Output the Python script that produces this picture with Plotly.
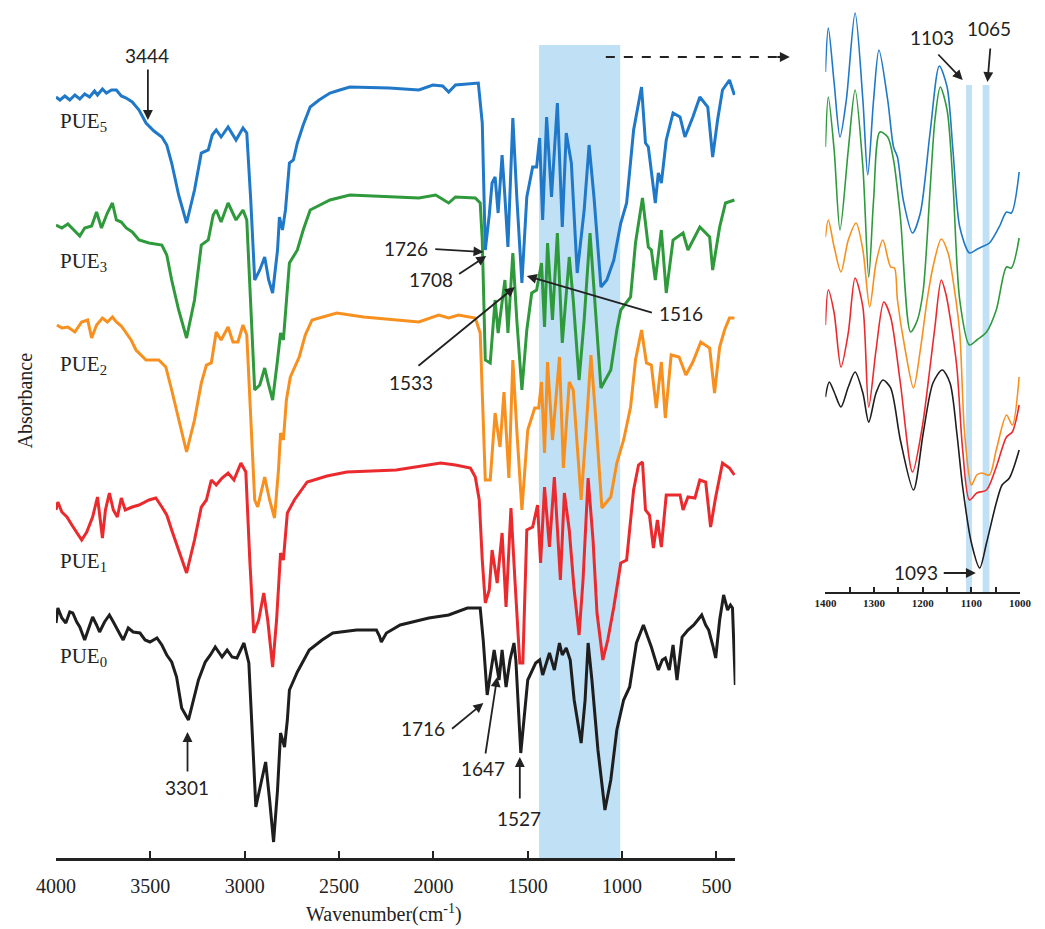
import plotly.graph_objects as go

# ---------------- main spectra (wavenumber cm-1, stacked absorbance a.u.) ----------------
WN_PUE5 = [4000, 3979, 3953, 3927, 3900, 3874, 3848, 3822, 3796, 3780, 3754, 3733, 3706, 3680, 3654, 3628, 3596,
           3560, 3523, 3481, 3439, 3413, 3387, 3350, 3308, 3266, 3230, 3193, 3172, 3151, 3125, 3088, 3046, 3009,
           2989, 2968, 2947, 2920, 2894, 2873, 2852, 2826, 2816, 2800, 2784, 2763, 2742, 2721, 2690, 2653, 2606,
           2548, 2496, 2443, 2234, 2077, 2003, 1951, 1919, 1883, 1762, 1741, 1725, 1704, 1689, 1673, 1657, 1636,
           1621, 1605, 1579, 1558, 1531, 1505, 1474, 1453, 1437, 1421, 1400, 1374, 1343, 1317, 1296, 1269, 1238,
           1201, 1175, 1149, 1112, 1081, 1044, 1007, 976, 939, 897, 876, 861, 824, 808, 792, 766, 730, 693, 667,
           625, 588, 546, 520, 494, 468, 431, 405]
ABS_PUE5 = [7.61, 7.58, 7.62, 7.58, 7.63, 7.59, 7.64, 7.61, 7.67, 7.63, 7.69, 7.65, 7.68, 7.68, 7.62, 7.60, 7.56,
            7.48, 7.35, 7.27, 7.21, 7.13, 6.95, 6.63, 6.35, 6.68, 7.05, 7.08, 7.23, 7.28, 7.21, 7.31, 7.18, 7.30,
            7.25, 6.58, 5.78, 5.88, 6.01, 5.78, 5.65, 6.08, 6.41, 6.28, 6.48, 6.95, 6.98, 7.15, 7.33, 7.51, 7.58,
            7.65, 7.68, 7.71, 7.70, 7.68, 7.73, 7.72, 7.66, 7.73, 7.75, 7.35, 6.08, 6.43, 6.75, 6.81, 6.45, 7.03,
            6.61, 6.11, 7.40, 6.61, 5.75, 6.61, 6.91, 6.91, 7.20, 6.38, 7.41, 6.61, 7.55, 6.31, 7.25, 6.95, 5.85,
            6.48, 7.13, 6.61, 5.71, 5.78, 5.98, 6.35, 6.55, 7.28, 7.71, 7.15, 7.11, 6.55, 6.85, 6.75, 7.18, 7.45,
            7.41, 7.21, 7.41, 7.61, 7.51, 7.01, 7.38, 7.68, 7.78, 7.63]

WN_PUE3 = [4000, 3969, 3937, 3906, 3874, 3848, 3811, 3785, 3759, 3728, 3701, 3680, 3654, 3628, 3596, 3560, 3507,
           3439, 3413, 3387, 3350, 3308, 3266, 3230, 3193, 3167, 3151, 3125, 3088, 3046, 3009, 2989, 2968, 2947,
           2920, 2894, 2873, 2852, 2826, 2810, 2795, 2779, 2763, 2721, 2690, 2653, 2548, 2443, 2234, 2077, 1988,
           1919, 1883, 1778, 1752, 1741, 1725, 1699, 1673, 1657, 1621, 1605, 1579, 1558, 1531, 1505, 1479, 1453,
           1427, 1411, 1395, 1369, 1343, 1317, 1280, 1259, 1228, 1201, 1170, 1144, 1112, 1060, 1028, 1007, 955,
           929, 892, 861, 845, 824, 792, 766, 730, 677, 651, 588, 536, 520, 483, 452, 405]
ABS_PUE3 = [6.33, 6.30, 6.34, 6.28, 6.22, 6.30, 6.32, 6.46, 6.30, 6.45, 6.55, 6.38, 6.36, 6.30, 6.26, 6.18, 6.15,
            6.13, 6.03, 5.78, 5.48, 5.20, 5.58, 6.13, 6.18, 6.43, 6.48, 6.36, 6.55, 6.38, 6.48, 6.38, 5.58, 4.68,
            4.73, 4.90, 4.73, 4.58, 4.98, 5.25, 5.18, 5.58, 5.95, 6.08, 6.28, 6.48, 6.58, 6.63, 6.61, 6.60, 6.63,
            6.55, 6.61, 6.60, 6.55, 6.18, 4.98, 4.95, 5.58, 5.25, 5.78, 5.25, 6.05, 5.38, 4.68, 5.28, 5.65, 5.68,
            5.95, 5.31, 6.15, 5.38, 6.25, 5.15, 6.01, 5.58, 4.78, 5.38, 6.25, 5.58, 4.70, 4.88, 5.28, 5.48, 5.61,
            6.15, 6.60, 6.11, 6.08, 5.78, 6.28, 5.65, 6.18, 6.25, 6.08, 6.31, 6.21, 5.88, 6.31, 6.55, 6.58]

WN_PUE2 = [3995, 3969, 3937, 3900, 3864, 3832, 3811, 3785, 3754, 3728, 3701, 3680, 3654, 3628, 3602, 3576, 3549,
           3523, 3455, 3418, 3387, 3350, 3308, 3266, 3230, 3203, 3177, 3151, 3125, 3088, 3062, 3036, 3009, 2989,
           2968, 2947, 2931, 2894, 2868, 2842, 2821, 2810, 2795, 2779, 2758, 2711, 2679, 2643, 2512, 2370, 2077,
           1972, 1919, 1867, 1778, 1752, 1736, 1725, 1699, 1673, 1647, 1626, 1600, 1579, 1558, 1531, 1500, 1463,
           1442, 1427, 1411, 1395, 1369, 1332, 1311, 1280, 1259, 1217, 1191, 1165, 1139, 1107, 1060, 1028, 992,
           955, 929, 897, 871, 845, 819, 792, 771, 740, 698, 662, 625, 583, 536, 510, 483, 457, 431, 405]
ABS_PUE2 = [5.33, 5.30, 5.31, 5.26, 5.36, 5.38, 5.20, 5.33, 5.40, 5.36, 5.41, 5.36, 5.32, 5.25, 5.18, 5.08, 5.03,
            4.98, 4.98, 4.91, 4.68, 4.38, 4.06, 4.38, 4.75, 4.93, 4.95, 5.26, 5.18, 5.31, 5.16, 5.16, 5.33, 5.23,
            4.38, 3.58, 3.51, 3.81, 3.58, 3.40, 3.88, 4.25, 4.18, 4.58, 4.81, 5.01, 5.23, 5.38, 5.45, 5.41, 5.36,
            5.43, 5.40, 5.43, 5.40, 5.25, 4.38, 3.78, 3.78, 4.45, 4.11, 4.66, 3.80, 4.98, 4.28, 3.48, 4.28, 4.50,
            4.50, 4.76, 4.05, 4.96, 4.18, 5.01, 3.90, 4.76, 4.68, 3.58, 4.28, 5.03, 4.38, 3.50, 3.61, 3.95, 4.18,
            4.51, 4.98, 5.28, 4.95, 4.93, 4.50, 4.96, 4.40, 5.03, 5.01, 4.83, 4.96, 5.16, 5.10, 4.65, 5.11, 5.28,
            5.40, 5.40]

WN_PUE1 = [4000, 3990, 3969, 3942, 3916, 3890, 3864, 3837, 3806, 3780, 3754, 3738, 3717, 3696, 3675, 3654, 3633,
           3596, 3560, 3507, 3471, 3439, 3413, 3387, 3350, 3308, 3266, 3230, 3203, 3177, 3151, 3120, 3088, 3057,
           3020, 2994, 2973, 2952, 2926, 2899, 2878, 2852, 2831, 2810, 2795, 2774, 2737, 2669, 2564, 2459, 2197,
           2024, 1961, 1883, 1804, 1778, 1757, 1741, 1725, 1704, 1689, 1662, 1636, 1615, 1589, 1568, 1542, 1526,
           1505, 1474, 1448, 1432, 1411, 1385, 1359, 1327, 1306, 1280, 1254, 1228, 1207, 1180, 1154, 1133, 1102,
           1076, 1044, 1007, 976, 939, 913, 892, 876, 855, 834, 813, 792, 766, 730, 693, 677, 651, 614, 588, 557,
           531, 504, 468, 431, 405]
ABS_PUE1 = [3.48, 3.56, 3.46, 3.41, 3.33, 3.26, 3.18, 3.26, 3.41, 3.61, 3.20, 3.48, 3.65, 3.48, 3.41, 3.60, 3.48,
            3.51, 3.53, 3.58, 3.60, 3.51, 3.43, 3.28, 3.08, 2.85, 3.18, 3.51, 3.58, 3.78, 3.73, 3.80, 3.85, 3.78,
            3.95, 3.86, 2.98, 2.25, 2.38, 2.65, 2.38, 1.91, 2.38, 3.05, 2.98, 3.45, 3.58, 3.76, 3.82, 3.86, 3.88,
            3.93, 3.95, 3.93, 3.90, 3.81, 3.58, 2.98, 2.55, 2.68, 3.08, 2.75, 3.25, 2.51, 3.50, 2.78, 1.95, 1.95,
            3.28, 3.31, 3.53, 2.95, 3.71, 3.11, 3.81, 2.78, 3.65, 3.28, 2.68, 2.23, 2.78, 3.80, 3.18, 2.45, 1.98,
            2.18, 2.51, 2.95, 2.98, 3.68, 3.93, 3.96, 3.48, 3.43, 3.10, 3.38, 3.11, 3.63, 3.63, 3.63, 3.48, 3.61,
            3.60, 3.78, 3.76, 3.31, 3.61, 3.95, 3.90, 3.83]

WN_PUE0 = [4000, 3990, 3969, 3948, 3927, 3911, 3890, 3874, 3848, 3827, 3806, 3785, 3769, 3743, 3717, 3696, 3680,
           3659, 3644, 3617, 3591, 3555, 3528, 3502, 3465, 3439, 3413, 3387, 3361, 3334, 3298, 3271, 3245, 3209,
           3182, 3156, 3120, 3093, 3067, 3041, 3004, 2978, 2957, 2941, 2910, 2889, 2868, 2847, 2826, 2810, 2789,
           2774, 2763, 2721, 2658, 2590, 2533, 2407, 2302, 2286, 2276, 2249, 2176, 2024, 1919, 1820, 1752, 1736,
           1715, 1678, 1652, 1636, 1615, 1594, 1573, 1563, 1537, 1516, 1500, 1458, 1437, 1421, 1385, 1359, 1332,
           1317, 1296, 1275, 1254, 1217, 1196, 1180, 1160, 1128, 1091, 1060, 1028, 992, 960, 924, 887, 866, 845,
           808, 787, 771, 750, 730, 709, 682, 651, 620, 578, 557, 541, 520, 504, 483, 462, 441, 426, 415, 400]
ABS_PUE0 = [2.35, 2.50, 2.40, 2.35, 2.46, 2.45, 2.36, 2.31, 2.18, 2.30, 2.41, 2.33, 2.26, 2.36, 2.43, 2.36, 2.31,
            2.23, 2.18, 2.30, 2.26, 2.25, 2.18, 2.16, 2.20, 2.13, 2.03, 1.96, 1.81, 1.50, 1.38, 1.58, 1.78, 1.96,
            2.03, 2.11, 2.01, 2.08, 2.01, 2.00, 2.15, 1.95, 1.18, 0.51, 0.78, 0.96, 0.58, 0.16, 0.68, 1.25, 1.11,
            1.38, 1.68, 1.86, 2.08, 2.18, 2.25, 2.28, 2.28, 2.22, 2.16, 2.25, 2.33, 2.40, 2.43, 2.50, 2.50, 2.18,
            1.63, 2.08, 1.78, 2.08, 1.71, 1.98, 2.15, 1.98, 1.05, 1.48, 1.78, 1.95, 1.98, 1.83, 2.05, 1.88, 2.15,
            2.03, 2.10, 1.98, 1.58, 1.15, 1.58, 2.15, 1.78, 1.08, 0.48, 0.78, 1.28, 1.58, 1.71, 2.15, 2.33, 2.22,
            2.11, 1.88, 1.98, 2.00, 1.88, 2.13, 1.78, 2.21, 2.28, 2.33, 2.43, 2.33, 2.28, 2.13, 2.00, 2.38, 2.63,
            2.48, 2.53, 2.50, 1.73]

# ---------------- inset spectra 1400-1000 cm-1 ----------------
IN_WN_PUE5 = [1400, 1394, 1382, 1370, 1357, 1339, 1323, 1313, 1301, 1290, 1272, 1260, 1252, 1240, 1221, 1205, 1185,
              1166, 1150, 1138, 1124, 1104, 1091, 1079, 1063, 1043, 1028, 1018, 1002]
IN_AB_PUE5 = [5.20, 5.64, 5.09, 4.55, 4.92, 5.79, 4.92, 4.17, 4.92, 5.42, 4.92, 4.45, 4.35, 3.92, 3.59, 3.79, 4.59,
              5.26, 5.05, 4.42, 3.65, 3.39, 3.42, 3.45, 3.49, 3.65, 3.80, 3.79, 4.20]
IN_WN_PUE3 = [1400, 1394, 1382, 1370, 1353, 1339, 1323, 1311, 1301, 1288, 1272, 1260, 1246, 1225, 1211, 1199, 1185,
              1175, 1164, 1150, 1138, 1124, 1104, 1089, 1069, 1049, 1028, 1018, 1002]
IN_AB_PUE3 = [4.45, 4.95, 4.42, 3.62, 4.42, 5.02, 4.25, 3.15, 3.92, 4.60, 4.55, 4.32, 3.75, 2.60, 2.72, 3.02, 4.02,
              4.72, 5.05, 4.82, 4.09, 2.92, 2.47, 2.52, 2.60, 2.82, 3.25, 3.24, 3.54]
IN_WN_PUE2 = [1400, 1394, 1382, 1368, 1353, 1337, 1323, 1309, 1296, 1282, 1266, 1258, 1252, 1236, 1219, 1205, 1191,
              1179, 1162, 1148, 1134, 1124, 1114, 1100, 1089, 1079, 1063, 1049, 1028, 1016, 1002]
IN_AB_PUE2 = [3.55, 3.72, 3.45, 3.20, 3.52, 3.69, 3.42, 2.85, 3.29, 3.52, 3.25, 3.24, 2.92, 2.42, 2.04, 2.42, 2.92,
              3.25, 3.53, 3.39, 2.99, 2.59, 1.59, 1.07, 1.17, 1.19, 1.17, 1.42, 1.77, 1.67, 2.15]
IN_WN_PUE1 = [1400, 1394, 1382, 1368, 1353, 1339, 1323, 1311, 1296, 1280, 1266, 1246, 1221, 1201, 1185, 1175, 1162,
              1152, 1144, 1130, 1118, 1104, 1089, 1069, 1049, 1028, 1016, 1002]
IN_AB_PUE1 = [2.67, 3.02, 2.79, 2.25, 2.59, 3.14, 2.85, 1.85, 2.42, 2.90, 2.75, 2.09, 1.20, 1.65, 2.25, 2.65, 3.12,
              2.97, 2.75, 2.25, 1.42, 0.92, 0.99, 1.02, 1.25, 1.55, 1.60, 1.87]
IN_WN_PUE0 = [1400, 1392, 1382, 1368, 1353, 1339, 1323, 1311, 1296, 1282, 1266, 1246, 1219, 1199, 1179, 1160, 1144,
              1130, 1118, 1100, 1083, 1069, 1049, 1037, 1022, 1002]
IN_AB_PUE0 = [1.95, 2.10, 2.00, 1.85, 2.05, 2.20, 1.99, 1.70, 1.99, 2.12, 2.04, 1.52, 1.02, 1.59, 2.09, 2.22, 2.09,
              1.59, 1.05, 0.49, 0.24, 0.49, 0.89, 1.07, 1.14, 1.42]

SERIES = ["PUE5", "PUE3", "PUE2", "PUE1", "PUE0"]
LABELS = ["PUE<sub>5</sub>", "PUE<sub>3</sub>", "PUE<sub>2</sub>", "PUE<sub>1</sub>", "PUE<sub>0</sub>"]
COLORS = ["#1f78c8", "#2f9a3c", "#f7901e", "#eb2a2e", "#1e1e1e"]
MAIN_WN = [WN_PUE5, WN_PUE3, WN_PUE2, WN_PUE1, WN_PUE0]
MAIN_AB = [ABS_PUE5, ABS_PUE3, ABS_PUE2, ABS_PUE1, ABS_PUE0]
INSET_WN = [IN_WN_PUE5, IN_WN_PUE3, IN_WN_PUE2, IN_WN_PUE1, IN_WN_PUE0]
INSET_AB = [IN_AB_PUE5, IN_AB_PUE3, IN_AB_PUE2, IN_AB_PUE1, IN_AB_PUE0]
LABEL_Y = [0.868, 0.703, 0.581, 0.349, 0.237]

MAIN_TICKS = [4000, 3500, 3000, 2500, 2000, 1500, 1000, 500]
INSET_TICKS = [1400, 1350, 1300, 1250, 1200, 1150, 1100, 1050, 1000]
INSET_TICKTEXT = ["<b>1400</b>", "", "<b>1300</b>", "", "<b>1200</b>", "", "<b>1100</b>", "", "<b>1000</b>"]

SERIF = "Liberation Serif"
SANS = "Lato"

fig = go.Figure()

for name, wn, ab, col in zip(SERIES, MAIN_WN, MAIN_AB, COLORS):
    fig.add_trace(go.Scatter(x=wn, y=ab, mode="lines", name=name,
                             line=dict(color=col, width=3), xaxis="x", yaxis="y", showlegend=False))

for name, wn, ab, col in zip(SERIES, INSET_WN, INSET_AB, COLORS):
    fig.add_trace(go.Scatter(x=wn, y=ab, mode="lines", name=name + " inset",
                             line=dict(color=col, width=1.6, shape="spline", smoothing=0.8),
                             xaxis="x2", yaxis="y2", showlegend=False))

shapes = [
    dict(type="rect", xref="x", yref="y", x0=1440, x1=1010, y0=0, y1=8.13,
         fillcolor="#bfe0f5", line=dict(width=0), layer="below"),
    dict(type="rect", xref="x2", yref="y2", x0=1111, x1=1099, y0=0, y1=5.07,
         fillcolor="#bfe0f5", line=dict(width=0), layer="below"),
    dict(type="rect", xref="x2", yref="y2", x0=1077, x1=1063, y0=0, y1=5.07,
         fillcolor="#bfe0f5", line=dict(width=0), layer="below"),
    dict(type="line", xref="paper", yref="paper", x0=0.5622, x1=0.748, y0=0.9446, y1=0.9446,
         line=dict(color="#222", width=2, dash="dash")),
]

annotations = []

def label(text, x, y, xref="x", yref="y", size=19):
    annotations.append(dict(text=text, x=x, y=y, xref=xref, yref=yref, showarrow=False,
                            xanchor="center", yanchor="middle",
                            font=dict(family=SANS, size=size, color="#222")))

def arrow(hx, hy, tx, ty, xref="x", yref="y"):
    annotations.append(dict(text="", x=hx, y=hy, ax=tx, ay=ty, xref=xref, yref=yref,
                            axref=xref, ayref=yref, showarrow=True, arrowhead=2, arrowsize=1.1,
                            arrowwidth=1.8, arrowcolor="#222"))

# main plot peak labels
label("3444", 3518, 8.03); arrow(3513, 7.38, 3513, 7.90)
label("1726", 2145, 6.10); arrow(1735, 6.06, 1998, 6.09)
label("1708", 2014, 5.79); arrow(1720, 6.02, 1872, 5.83)
label("1516", 688, 5.45); arrow(1505, 5.82, 834, 5.45)
label("1533", 2118, 4.76); arrow(1568, 5.71, 2087, 4.91)
label("3301", 3308, 0.71); arrow(3303, 1.26, 3303, 0.85)
label("1716", 2056, 1.30); arrow(1735, 1.55, 1909, 1.28)
label("1647", 1735, 0.90); arrow(1662, 1.81, 1725, 1.03)
label("1527", 1548, 0.40); arrow(1542, 1.01, 1542, 0.58)

# inset labels
label("1103", 1181, 5.55, "x2", "y2", 19); arrow(1118, 5.12, 1171, 5.39, "x2", "y2")
label("1065", 1063, 5.64, "x2", "y2", 19); arrow(1067, 5.10, 1061, 5.45, "x2", "y2")
label("1093", 1213, 0.19, "x2", "y2", 19); arrow(1091, 0.19, 1160, 0.19, "x2", "y2")

# dashed arrow head
annotations.append(dict(text="", x=0.7503, y=0.9446, xref="paper", yref="paper", ax=-14, ay=0,
                        showarrow=True, arrowhead=2, arrowsize=1.1, arrowwidth=1.8, arrowcolor="#222"))

# series labels
for lab, ly in zip(LABELS, LABEL_Y):
    annotations.append(dict(text=lab, x=0.002, y=ly, xref="paper", yref="paper", xanchor="left",
                            yanchor="middle", showarrow=False,
                            font=dict(family=SERIF, size=21, color="#222")))

# axis titles
annotations.append(dict(text="Absorbance", x=-0.0313, y=0.54, xref="paper", yref="paper", textangle=-90,
                        xanchor="center", yanchor="middle", showarrow=False,
                        font=dict(family=SERIF, size=20, color="#222")))
annotations.append(dict(text="Wavenumber(cm<sup>-1</sup>)", x=0.3357, y=-0.065, xref="paper", yref="paper",
                        xanchor="center", yanchor="middle", showarrow=False,
                        font=dict(family=SERIF, size=20, color="#222")))

fig.update_layout(
    width=1045, height=929,
    margin=dict(l=56, r=0, t=10, b=71),
    paper_bgcolor="white", plot_bgcolor="rgba(0,0,0,0)",
    shapes=shapes, annotations=annotations,
    xaxis=dict(domain=[0, 0.6946], range=[4000, 400], showgrid=False, zeroline=False,
               showline=True, linecolor="#222", linewidth=3, ticks="inside", ticklen=7, tickwidth=2,
               tickcolor="#222", tickvals=MAIN_TICKS, ticklabelstandoff=8,
               tickfont=dict(family=SERIF, size=20, color="#222"), anchor="y"),
    yaxis=dict(domain=[0, 1], range=[0, 8.48], visible=False, anchor="x"),
    xaxis2=dict(domain=[0.7867, 0.9858], range=[1400, 1000], showgrid=False, zeroline=False,
                showline=True, linecolor="#222", linewidth=2, ticks="inside", ticklen=5, tickwidth=1.5,
                tickcolor="#222", tickvals=INSET_TICKS, ticktext=INSET_TICKTEXT,
                tickfont=dict(family=SERIF, size=11, color="#222"), anchor="y2"),
    yaxis2=dict(domain=[0.3137, 1], range=[0, 5.82], visible=False, anchor="x2"),
)

fig.write_html("out.html")
